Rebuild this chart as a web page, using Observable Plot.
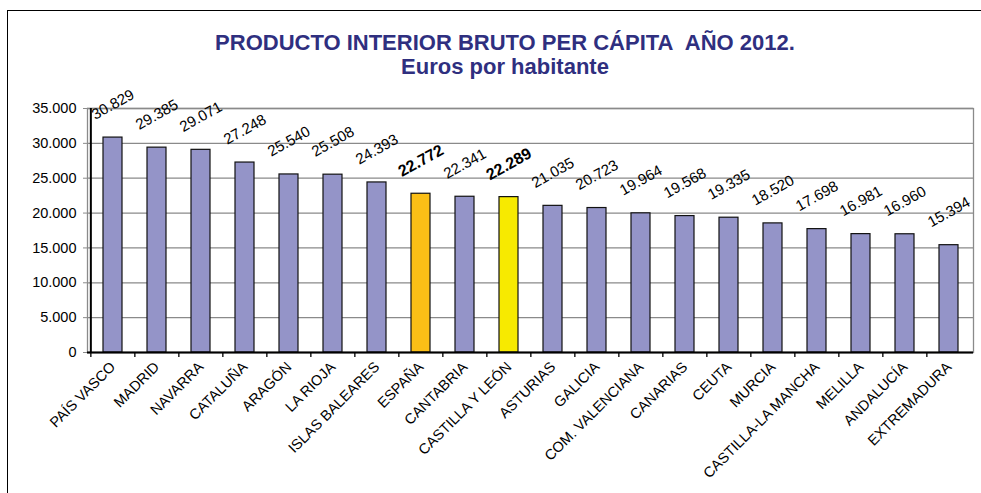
<!DOCTYPE html>
<html><head><meta charset="utf-8">
<script src="https://cdn.jsdelivr.net/npm/d3@7"></script>
<script src="https://cdn.jsdelivr.net/npm/@observablehq/plot@0.6"></script>
<style>
html,body{margin:0;padding:0;background:#fff;}
#wrap{position:relative;width:981px;height:493px;overflow:hidden;font-family:"Liberation Sans",Arial,sans-serif;}
#border{position:absolute;left:7px;top:10px;width:990px;height:500px;border:1.5px solid #000;box-sizing:border-box;}
#title{position:absolute;left:0;width:1010px;top:31px;text-align:center;color:#2f2f7f;font-weight:bold;font-size:22px;line-height:24px;}
#chart{position:absolute;left:0;top:0;}
</style></head>
<body><div id="wrap"><div id="border"></div><div id="chart"></div><div id="title">PRODUCTO INTERIOR BRUTO PER CÁPITA&nbsp; AÑO 2012.<br>Euros por habitante</div></div>
<script>
const regions = ["PAÍS VASCO","MADRID","NAVARRA","CATALUÑA","ARAGÓN","LA RIOJA","ISLAS BALEARES","ESPAÑA","CANTABRIA","CASTILLA Y LEÓN","ASTURIAS","GALICIA","COM. VALENCIANA","CANARIAS","CEUTA","MURCIA","CASTILLA-LA MANCHA","MELILLA","ANDALUCÍA","EXTREMADURA"];
const values = [30829,29385,29071,27248,25540,25508,24393,22772,22341,22289,21035,20723,19964,19568,19335,18520,17698,16981,16960,15394];
const yTicks = [0,5000,10000,15000,20000,25000,30000,35000];
const highlighted = ["ESPAÑA","CASTILLA Y LEÓN"];

const data = regions.map((r,i)=>({region:r, value:values[i]}));
const fmt = d3.formatLocale({decimal:",", thousands:".", grouping:[3], currency:["","€"]}).format(",d");
const W=981,H=493,mL=87,mR=8,mT=108,mB=141;
const step=(W-mL-mR)/regions.length;
const barFill = d => d.region==="ESPAÑA" ? "#fbbf16" : d.region==="CASTILLA Y LEÓN" ? "#f7ea00" : "#9494c8";
const font = '"Liberation Sans", Arial, sans-serif';

const chart = Plot.plot({
  width:W, height:H, marginLeft:mL, marginRight:mR, marginTop:mT, marginBottom:mB,
  style:{fontFamily:font, background:"transparent", color:"#000"},
  x:{domain:regions, paddingInner:0.57, paddingOuter:0.285, label:null},
  y:{domain:[0,35000], label:null},
  marks:[
    Plot.gridY(yTicks,{stroke:"#8a8a8a", strokeOpacity:1, strokeWidth:1.3}),
    Plot.frame({stroke:"#8a8a8a", strokeWidth:1.3}),
    Plot.axisY(yTicks,{tickSize:4, tickPadding:7, tickFormat:fmt, fontSize:14.5, label:null, stroke:"#8a8a8a", fill:"#000"}),
    Plot.barY(data,{x:"region", y:"value", fill:barFill, stroke:"#111", strokeWidth:1.2}),
    Plot.ruleY([0],{stroke:"#000", strokeWidth:2}),
    Plot.ruleX([regions[0]],{y1:0, y2:35000, dx:-step/2, stroke:"#000", strokeWidth:2}),
    Plot.ruleX(regions,{x:d=>d, y1:0, y2:-720, dx:-step/2, stroke:"#000", strokeWidth:1.3}),
    Plot.text(data.filter(d=>!highlighted.includes(d.region)),{x:"region", y:"value", text:d=>fmt(d.value), rotate:-29, dy:-33, fontSize:15, fill:"#000"}),
    Plot.text(data.filter(d=>highlighted.includes(d.region)),{x:"region", y:"value", text:d=>fmt(d.value), rotate:-29, dy:-33, fontSize:16, fontWeight:"bold", fill:"#000"}),
    Plot.axisX({tickSize:0, tickRotate:-45, tickPadding:12, fontSize:14.5, label:null, fill:"#000"})
  ]
});
document.getElementById("chart").appendChild(chart);
</script>
</body></html>
